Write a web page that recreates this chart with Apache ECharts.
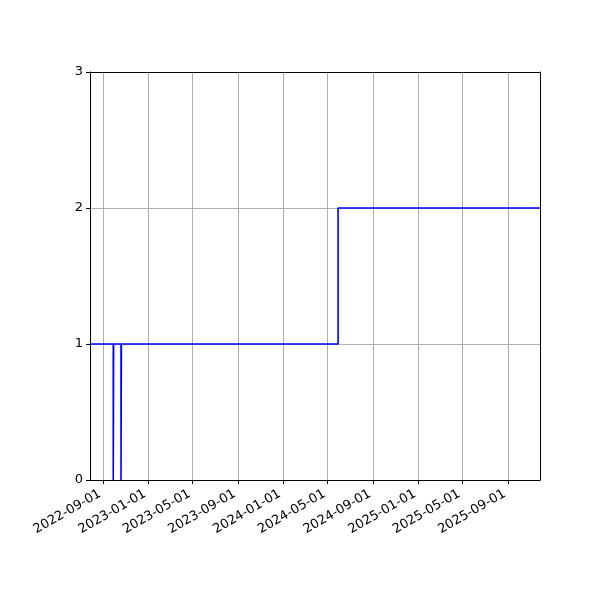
<!DOCTYPE html>
<html><head><meta charset="utf-8">
<script src="https://cdn.jsdelivr.net/npm/echarts@6/dist/echarts.min.js"></script>
<style>html,body{margin:0;padding:0;background:#fff}#c{width:600px;height:600px}</style>
</head><body><div id="c"></div>
<script>
const dates = ['2022-07-27','2022-09-28','2022-09-29','2022-10-19','2022-10-20','2024-05-29','2025-11-27'];
const values = [1, 0, 1, 0, 1, 2, 2];
const xTickLabels = ['2022-09-01','2023-01-01','2023-05-01','2023-09-01','2024-01-01','2024-05-01','2024-09-01','2025-01-01','2025-05-01','2025-09-01'];
const yTicks = [0, 1, 2, 3];
const xMinDate = '2022-07-27';
const xMaxDate = '2025-11-27';

const ts = d => Date.parse(d + 'T00:00:00Z');
const xTickVals = xTickLabels.map(ts);
const fmt = v => { const d = new Date(v); const p = n => String(n).padStart(2,'0'); return d.getUTCFullYear()+'-'+p(d.getUTCMonth()+1)+'-'+p(d.getUTCDate()); };
const font = 'DejaVu Sans';
const chart = echarts.init(document.getElementById('c'), null, {renderer:'canvas'});
chart.setOption({
  animation: false,
  grid: {left: 90, right: 60, top: 72, bottom: 120, containLabel: false},
  xAxis: [{
    type: 'value', min: ts(xMinDate), max: ts(xMaxDate),
    axisLine: {show: true, onZero: false, lineStyle: {color: '#000', width: 1}},
    axisTick: {show: true, length: 4, customValues: xTickVals, lineStyle: {color: '#000', width: 1}},
    axisLabel: {customValues: xTickVals, rotate: 30, formatter: v => fmt(v), color: '#000', fontFamily: font, fontSize: 13,
      align: 'right', verticalAlign: 'top', padding: [0, 7.5, 0, 0], margin: 3.5},
    splitLine: {show: true, lineStyle: {color: '#b0b0b0', width: 1}}
  },{
    type: 'value', position: 'top', min: ts(xMinDate), max: ts(xMaxDate),
    axisLine: {show: true, onZero: false, lineStyle: {color: '#000', width: 1}},
    axisTick: {show: false}, axisLabel: {show: false}, splitLine: {show: false}
  }],
  yAxis: [{
    type: 'value', min: yTicks[0], max: yTicks[yTicks.length-1], interval: 1,
    axisLine: {show: true, onZero: false, lineStyle: {color: '#000', width: 1}},
    axisTick: {show: true, length: 4, lineStyle: {color: '#000', width: 1}},
    axisLabel: {color: '#000', fontFamily: font, fontSize: 13, margin: 7},
    splitLine: {show: true, lineStyle: {color: '#b0b0b0', width: 1}}
  },{
    type: 'value', position: 'right', min: 0, max: 3,
    axisLine: {show: true, onZero: false, lineStyle: {color: '#000', width: 1}},
    axisTick: {show: false}, axisLabel: {show: false}, splitLine: {show: false}
  }],
  series: [{
    type: 'line', step: 'end', showSymbol: false, symbol: 'none',
    data: dates.map((d, i) => [ts(d), values[i]]),
    lineStyle: {color: '#0000ff', width: 1.6},
    z: 5
  }]
});
</script></body></html>
